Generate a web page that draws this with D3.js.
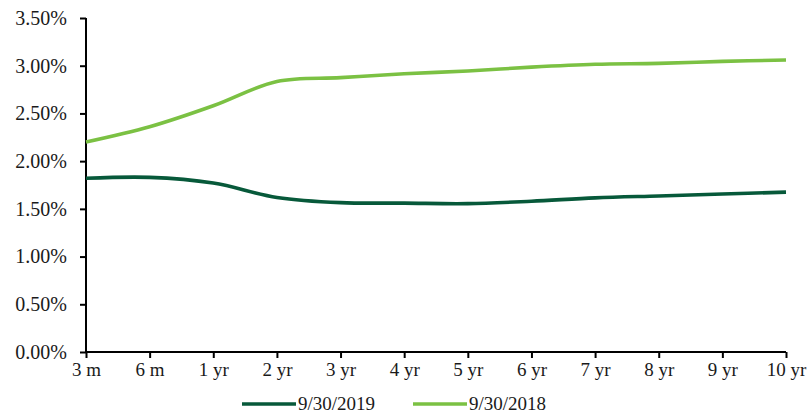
<!DOCTYPE html>
<html>
<head>
<meta charset="utf-8">
<script src="https://cdn.jsdelivr.net/npm/d3@7"></script>
<style>
  body { margin: 0; background: #fff; }
  svg text { font-family: "Liberation Serif", "Times New Roman", serif; fill: #1a1a1a; }
</style>
</head>
<body>
<div class="content"></div>
<script>
// DATA //////////////////////////////////////////////////////////
var tenors = ["3 m", "6 m", "1 yr", "2 yr", "3 yr", "4 yr", "5 yr", "6 yr", "7 yr", "8 yr", "9 yr", "10 yr"];
var yields2019 = [1.82, 1.83, 1.77, 1.62, 1.565, 1.56, 1.555, 1.58, 1.615, 1.635, 1.655, 1.675];
var yields2018 = [2.20, 2.36, 2.58, 2.835, 2.875, 2.915, 2.945, 2.985, 3.015, 3.025, 3.045, 3.06];
var yTicks = [0, 0.5, 1, 1.5, 2, 2.5, 3, 3.5];
var seriesNames = ["9/30/2019", "9/30/2018"];
var seriesColors = ["#07593a", "#7bc143"];

// LAYOUT ////////////////////////////////////////////////////////
var width = 812, height = 415;
var padLeft = 86, padRight = 786, padTop = 18, padBottom = 352;

var svg = d3.select(".content").append("svg")
  .attr("width", width).attr("height", height);

var x = d3.scalePoint().domain(tenors).range([padLeft, padRight]);
var y = d3.scaleLinear().domain([0, 3.5]).range([padBottom, padTop]);

// AXES //////////////////////////////////////////////////////////
var yAxis = svg.append("g").attr("transform", "translate(" + padLeft + ",0)")
  .call(d3.axisLeft(y).tickValues(yTicks).tickSize(6).tickPadding(13)
    .tickFormat(function(d){ return d.toFixed(2) + "%"; }));

var xAxis = svg.append("g").attr("transform", "translate(0," + padBottom + ")")
  .call(d3.axisBottom(x).tickSize(6).tickPadding(5));

[yAxis, xAxis].forEach(function(ax){
  ax.select(".domain").attr("stroke", "#000").attr("stroke-width", 2);
  ax.selectAll(".tick line").attr("stroke", "#000").attr("stroke-width", 2);
  ax.selectAll("text").style("font-size", "19px").attr("fill", "#1a1a1a");
});
yAxis.selectAll("text").style("font-size", "20px");
// axes without end caps
yAxis.select(".domain").attr("d", "M0," + padTop + "V" + padBottom);
xAxis.select(".domain").attr("d", "M" + padLeft + ",0H" + padRight);

// LINES /////////////////////////////////////////////////////////
var line = d3.line()
  .x(function(d, i){ return x(tenors[i]); })
  .y(function(d){ return y(d); })
  .curve(d3.curveCatmullRom.alpha(0.5));

[yields2019, yields2018].forEach(function(values, k){
  svg.append("path").datum(values)
    .attr("fill", "none")
    .attr("stroke", seriesColors[k])
    .attr("stroke-width", 3.6)
    .attr("stroke-linejoin", "round")
    .attr("d", line);
});

// LEGEND ////////////////////////////////////////////////////////
var legendX = [242, 413];
var legend = svg.append("g").attr("class", "legend");
seriesNames.forEach(function(name, k){
  legend.append("line")
    .attr("x1", legendX[k]).attr("x2", legendX[k] + 54)
    .attr("y1", 404).attr("y2", 404)
    .attr("stroke", seriesColors[k]).attr("stroke-width", 3.6);
  legend.append("text")
    .attr("x", legendX[k] + 56).attr("y", 410)
    .style("font-size", "19px")
    .text(name);
});
</script>
</body>
</html>
